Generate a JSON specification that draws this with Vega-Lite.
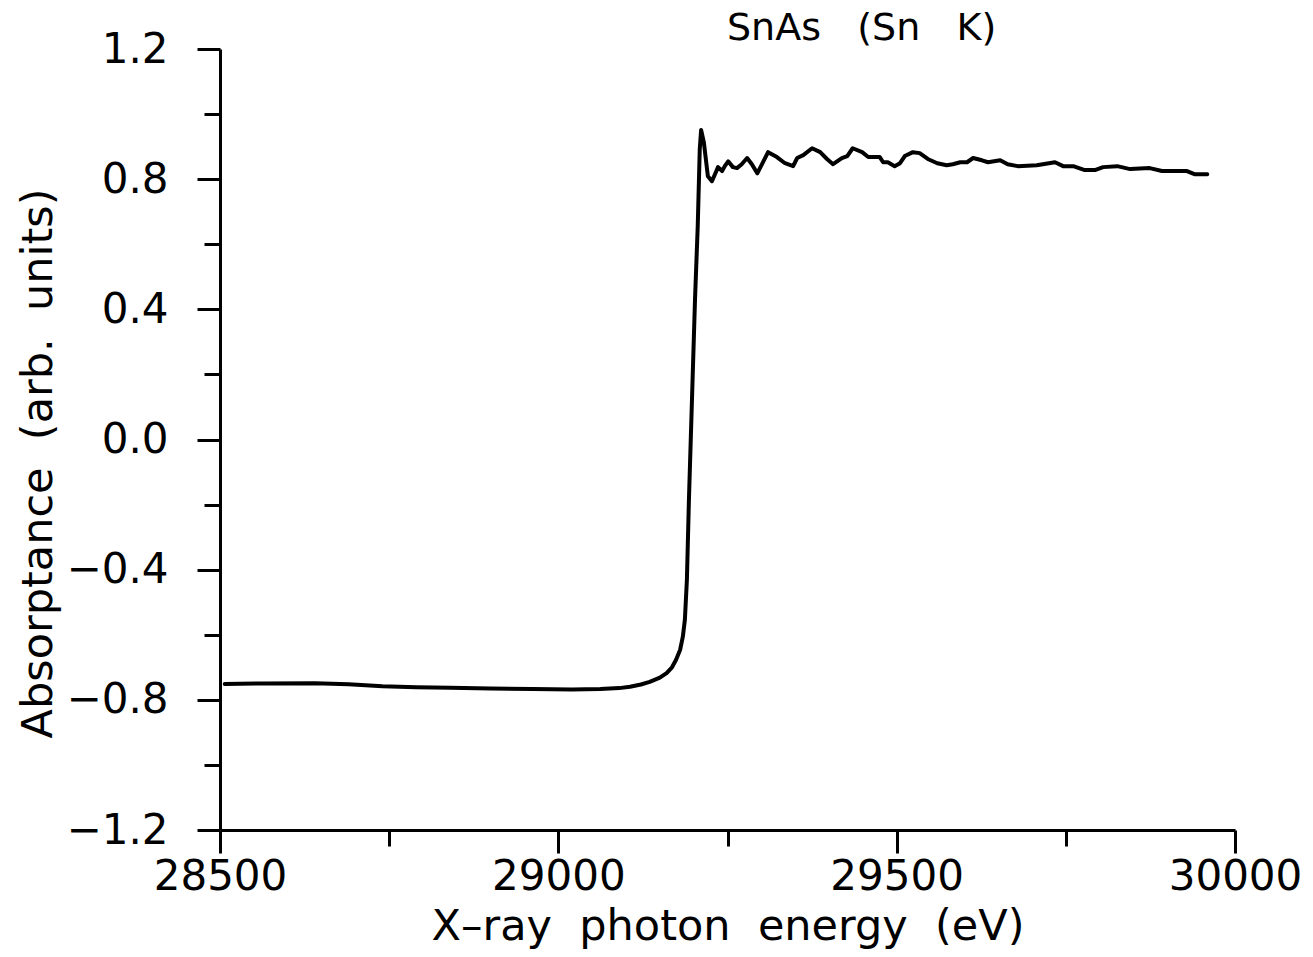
{
  "$schema": "https://vega.github.io/schema/vega-lite/v6.json",
  "autosize": "none",
  "width": 1015,
  "height": 781,
  "padding": {"left": 220, "top": 49, "right": 78, "bottom": 127},
  "background": "white",
  "title": {
    "text": "SnAs\u00a0\u00a0 (Sn\u00a0\u00a0 K)",
    "frame": "group",
    "anchor": "start",
    "orient": "top",
    "dx": 507,
    "offset": 0,
    "dy": 50,
    "baseline": "alphabetic",
    "font": "DejaVu Sans",
    "fontSize": 38,
    "fontWeight": "normal",
    "color": "black"
  },
  "config": {
    "view": {"stroke": null},
    "axis": {
      "grid": false,
      "domainColor": "black",
      "domainWidth": 3,
      "tickColor": "black",
      "tickWidth": 3,
      "labelColor": "black",
      "labelFont": "DejaVu Sans",
      "labelFontSize": 42,
      "titleColor": "black",
      "titleFont": "DejaVu Sans",
      "titleFontSize": 43,
      "titleFontWeight": "normal"
    }
  },
  "data": {
    "values": [
      {"E": 28507, "A": -0.751},
      {"E": 28560, "A": -0.750},
      {"E": 28640, "A": -0.749},
      {"E": 28690, "A": -0.752},
      {"E": 28740, "A": -0.758},
      {"E": 28790, "A": -0.761},
      {"E": 28840, "A": -0.763},
      {"E": 28900, "A": -0.765},
      {"E": 28962, "A": -0.767},
      {"E": 29020, "A": -0.768},
      {"E": 29062, "A": -0.767},
      {"E": 29090, "A": -0.764},
      {"E": 29106, "A": -0.760},
      {"E": 29122, "A": -0.753},
      {"E": 29135, "A": -0.745},
      {"E": 29150, "A": -0.732},
      {"E": 29160, "A": -0.718},
      {"E": 29168, "A": -0.700},
      {"E": 29174, "A": -0.677},
      {"E": 29180, "A": -0.646},
      {"E": 29184, "A": -0.606},
      {"E": 29187, "A": -0.554},
      {"E": 29190, "A": -0.431},
      {"E": 29193, "A": -0.185},
      {"E": 29197.5, "A": 0.123},
      {"E": 29202, "A": 0.431},
      {"E": 29206, "A": 0.655},
      {"E": 29209, "A": 0.892},
      {"E": 29211, "A": 0.951},
      {"E": 29215, "A": 0.914},
      {"E": 29221, "A": 0.809},
      {"E": 29227, "A": 0.794},
      {"E": 29231.5, "A": 0.815},
      {"E": 29236, "A": 0.837},
      {"E": 29242, "A": 0.825},
      {"E": 29246, "A": 0.840},
      {"E": 29251, "A": 0.855},
      {"E": 29258, "A": 0.837},
      {"E": 29264, "A": 0.834},
      {"E": 29271, "A": 0.846},
      {"E": 29279, "A": 0.865},
      {"E": 29286, "A": 0.846},
      {"E": 29294, "A": 0.818},
      {"E": 29301, "A": 0.846},
      {"E": 29310, "A": 0.883},
      {"E": 29323, "A": 0.868},
      {"E": 29335, "A": 0.849},
      {"E": 29347, "A": 0.840},
      {"E": 29353, "A": 0.865},
      {"E": 29362, "A": 0.874},
      {"E": 29375, "A": 0.895},
      {"E": 29387, "A": 0.883},
      {"E": 29397, "A": 0.862},
      {"E": 29406, "A": 0.846},
      {"E": 29419, "A": 0.865},
      {"E": 29427, "A": 0.871},
      {"E": 29435, "A": 0.895},
      {"E": 29449, "A": 0.883},
      {"E": 29458, "A": 0.868},
      {"E": 29475, "A": 0.868},
      {"E": 29480, "A": 0.852},
      {"E": 29487, "A": 0.852},
      {"E": 29497, "A": 0.840},
      {"E": 29505, "A": 0.849},
      {"E": 29512, "A": 0.871},
      {"E": 29524, "A": 0.883},
      {"E": 29534, "A": 0.880},
      {"E": 29546, "A": 0.862},
      {"E": 29560, "A": 0.849},
      {"E": 29574, "A": 0.843},
      {"E": 29583, "A": 0.846},
      {"E": 29594, "A": 0.852},
      {"E": 29604, "A": 0.852},
      {"E": 29613, "A": 0.865},
      {"E": 29626, "A": 0.858},
      {"E": 29635, "A": 0.852},
      {"E": 29653, "A": 0.858},
      {"E": 29664, "A": 0.846},
      {"E": 29679, "A": 0.840},
      {"E": 29707, "A": 0.843},
      {"E": 29734, "A": 0.852},
      {"E": 29746, "A": 0.840},
      {"E": 29761, "A": 0.840},
      {"E": 29778, "A": 0.828},
      {"E": 29793, "A": 0.828},
      {"E": 29805, "A": 0.837},
      {"E": 29826, "A": 0.840},
      {"E": 29845, "A": 0.831},
      {"E": 29874, "A": 0.834},
      {"E": 29892, "A": 0.825},
      {"E": 29929, "A": 0.825},
      {"E": 29941, "A": 0.815},
      {"E": 29959, "A": 0.815}
    ]
  },
  "mark": {"type": "line", "color": "black", "strokeWidth": 4, "strokeCap": "round", "strokeJoin": "round", "clip": false},
  "encoding": {
    "x": {
      "field": "E",
      "type": "quantitative",
      "scale": {"domain": [28500, 30000], "nice": false, "zero": false},
      "axis": {
        "title": "X–ray\u00a0 photon\u00a0 energy\u00a0 (eV)",
        "values": [28500, 28750, 29000, 29250, 29500, 29750, 30000],
        "format": "d",
        "labelExpr": "datum.value % 500 === 0 ? datum.label : ''",
        "tickSize": {"condition": {"test": "datum.value % 500 === 0", "value": 23}, "value": 16},
        "labelPadding": 3,
        "labelFlush": false,
        "labelOverlap": false,
        "titlePadding": 8
      }
    },
    "y": {
      "field": "A",
      "type": "quantitative",
      "scale": {"domain": [-1.2, 1.2], "nice": false, "zero": false},
      "axis": {
        "title": "Absorptance\u00a0 (arb.\u00a0 units)",
        "values": [-1.2, -1.0, -0.8, -0.6, -0.4, -0.2, 0, 0.2, 0.4, 0.6, 0.8, 1.0, 1.2],
        "format": ".1f",
        "labelExpr": "abs(round(datum.value * 10)) % 4 === 0 ? datum.label : ''",
        "tickSize": {"condition": {"test": "abs(round(datum.value * 10)) % 4 === 0", "value": 23}, "value": 16},
        "labelPadding": 29,
        "labelFlush": false,
        "labelOverlap": false,
        "titlePadding": 6,
        "titleY": 414
      }
    }
  }
}
